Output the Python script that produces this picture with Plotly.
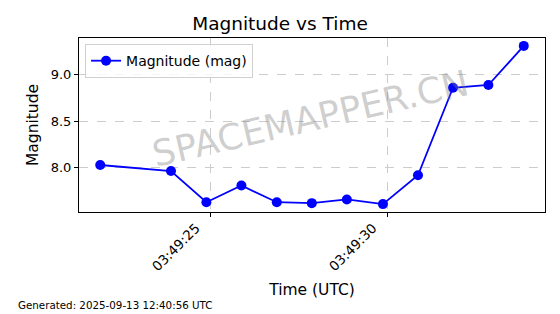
import plotly.graph_objects as go

times = [
    "2025-09-13 03:49:21.870", "2025-09-13 03:49:23.870", "2025-09-13 03:49:24.870",
    "2025-09-13 03:49:25.860", "2025-09-13 03:49:26.860", "2025-09-13 03:49:27.850",
    "2025-09-13 03:49:28.840", "2025-09-13 03:49:29.860", "2025-09-13 03:49:30.850",
    "2025-09-13 03:49:31.840", "2025-09-13 03:49:32.840", "2025-09-13 03:49:33.840",
]
magnitudes = [8.03, 7.965, 7.63, 7.81, 7.63, 7.62, 7.66, 7.61, 7.92, 8.86, 8.89, 9.31]

x_range = ["2025-09-13 03:49:21.270", "2025-09-13 03:49:34.440"]
y_range = [7.525, 9.395]

FONT = "DejaVu Sans"

fig = go.Figure()
fig.add_trace(go.Scatter(
    x=times, y=magnitudes, mode="lines+markers", name="Magnitude (mag)",
    line=dict(color="#0000ff", width=1.8),
    marker=dict(color="#0000ff", size=10),
))

fig.update_layout(
    width=560, height=314,
    margin=dict(l=79, r=15, t=38, b=102),
    paper_bgcolor="white", plot_bgcolor="white",
    font=dict(family=FONT, color="black", size=13),
    title=dict(text="Magnitude vs Time", x=0.5, xanchor="center",
               y=1 - 24 / 314, yanchor="middle", font=dict(size=18.5)),
    showlegend=True,
    legend=dict(x=0.013, y=0.965, xanchor="left", yanchor="top",
                bgcolor="rgba(255,255,255,0.8)", bordercolor="#d0d0d0",
                borderwidth=1, font=dict(size=14)),
)

fig.update_xaxes(
    type="date", range=x_range, tick0="2025-09-13 03:49:25", dtick=5000,
    tickformat="%H:%M:%S", tickangle=-45, ticks="outside", ticklen=4,
    tickcolor="black", showline=True, linecolor="black", linewidth=1, mirror=True,
    showgrid=True, gridcolor="#cccccc", griddash="dash", gridwidth=0.8,
    zeroline=False, tickfont=dict(size=13.5),
    ticklabelshift=-15, ticklabelstandoff=-2,
    title=dict(text="Time (UTC)", font=dict(size=15.5), standoff=10),
)
fig.update_yaxes(
    range=y_range, dtick=0.5, tick0=8.0, tickformat=".1f", ticks="outside", ticklen=4,
    tickcolor="black", showline=True, linecolor="black", linewidth=1, mirror=True,
    showgrid=True, gridcolor="#cccccc", griddash="dash", gridwidth=0.8,
    zeroline=False, tickfont=dict(size=13),
    title=dict(text="Magnitude", font=dict(size=15.5), standoff=8),
)

fig.add_annotation(
    text="SPACEMAPPER.CN", xref="paper", yref="paper", x=0.497, y=0.535,
    showarrow=False, textangle=-13, font=dict(size=36, color="rgba(128,128,128,0.38)"),
)
fig.add_annotation(
    text="Generated: 2025-09-13 12:40:56 UTC", xref="paper", yref="paper",
    x=(16 - 79) / 466, y=(212 - 305) / 174, xanchor="left", yanchor="middle",
    showarrow=False, font=dict(size=10.3, color="black"),
)

fig.write_html("out.html")
